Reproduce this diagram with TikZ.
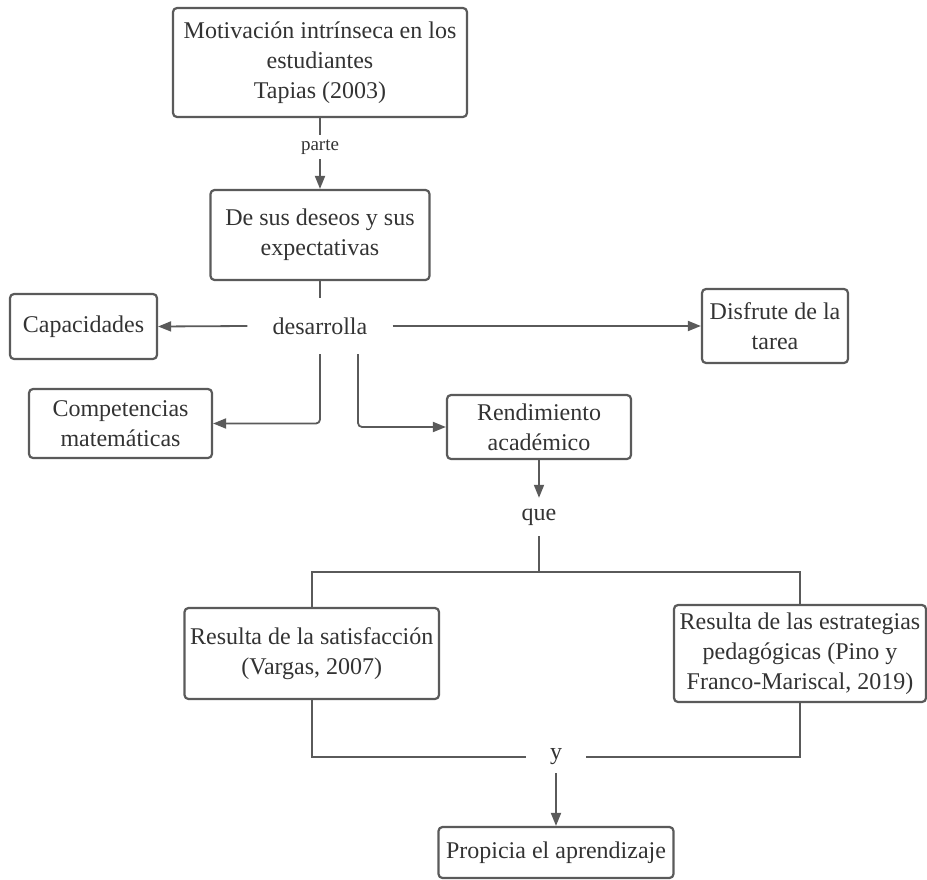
\documentclass[tikz,border=0pt]{standalone}
\usepackage{fontspec}
\setmainfont{Liberation Serif}
\usetikzlibrary{arrows.meta}
\definecolor{linec}{HTML}{5A5A5A}
\definecolor{textc}{HTML}{333333}
\begin{document}
\begin{tikzpicture}[x=1pt,y=-1pt,
  box/.style={draw=linec,line width=2.2pt,rounded corners=4pt,align=center,inner sep=0pt,text=textc,font=\fontsize{24}{30}\selectfont},
  lbl/.style={inner sep=0pt,text=textc,font=\fontsize{24}{30}\selectfont},
  conn/.style={draw=linec,line width=1.8pt},
  arr/.style={conn,-{Triangle[length=13pt,width=10pt]}}]
\useasboundingbox (0,0) rectangle (927,880);
\node[box,minimum width=294pt,minimum height=109pt] (b1) at (320,62.5) {Motivación intrínseca en los\\estudiantes\\Tapias (2003)};
\node[lbl,font=\fontsize{19}{22}\selectfont,minimum height=24pt] (parte) at (320,147) {parte};
\node[box,minimum width=219pt,minimum height=90pt] (b2) at (320,235) {De sus deseos y sus\\expectativas};
\node[lbl,minimum width=145pt,minimum height=56pt] (des) at (320,326) {desarrolla};
\node[box,minimum width=147pt,minimum height=65pt] (cap) at (83.5,326.5) {Capacidades};
\node[box,minimum width=146pt,minimum height=74pt] (dis) at (775,326) {Disfrute de la\\tarea};
\node[box,minimum width=183pt,minimum height=69pt] (comp) at (120.5,423.5) {Competencias\\matemáticas};
\node[box,minimum width=184pt,minimum height=64pt] (rend) at (539,427) {Rendimiento\\académico};
\node[lbl,minimum height=38pt] (que) at (539,517) {que};
\coordinate (split) at (539,572);
\node[box,minimum width=254.5pt,minimum height=91pt] (sat) at (311.75,653.5) {Resulta de la satisfacción\\(Vargas, 2007)};
\node[box,minimum width=252pt,minimum height=97pt] (est) at (800,653.5) {Resulta de las estrategias\\pedagógicas (Pino y\\Franco-Mariscal, 2019)};
\node[lbl,minimum width=60pt,minimum height=32pt] (yy) at (556,757) {y};
\node[box,minimum width=235pt,minimum height=51pt] (prop) at (556,852.5) {Propicia el aprendizaje};

\draw[conn] (b1.south) -- (parte.north);
\draw[arr] (parte.south) -- (b2.north);
\draw[conn] (b2.south) -- (des.north);
\draw[arr] (des.west) -- (cap.east);
\draw[arr] (des.east) -- (dis.west);
\draw[arr,rounded corners=4pt] (des.south) |- (comp.east);
\draw[arr,rounded corners=4pt] ([xshift=38pt]des.south) |- (rend.west);
\draw[arr] (rend.south) -- (que.north);
\draw[conn,line width=2.2pt] (que.south) -- (split);
\draw[conn,line width=2.2pt] (sat.north) |- (split) -| (est.north);
\draw[conn,line width=2.2pt] (sat.south) |- (yy.west);
\draw[conn,line width=2.2pt] (est.south) |- (yy.east);
\draw[arr] (yy.south) -- (prop.north);
\end{tikzpicture}
\end{document}
